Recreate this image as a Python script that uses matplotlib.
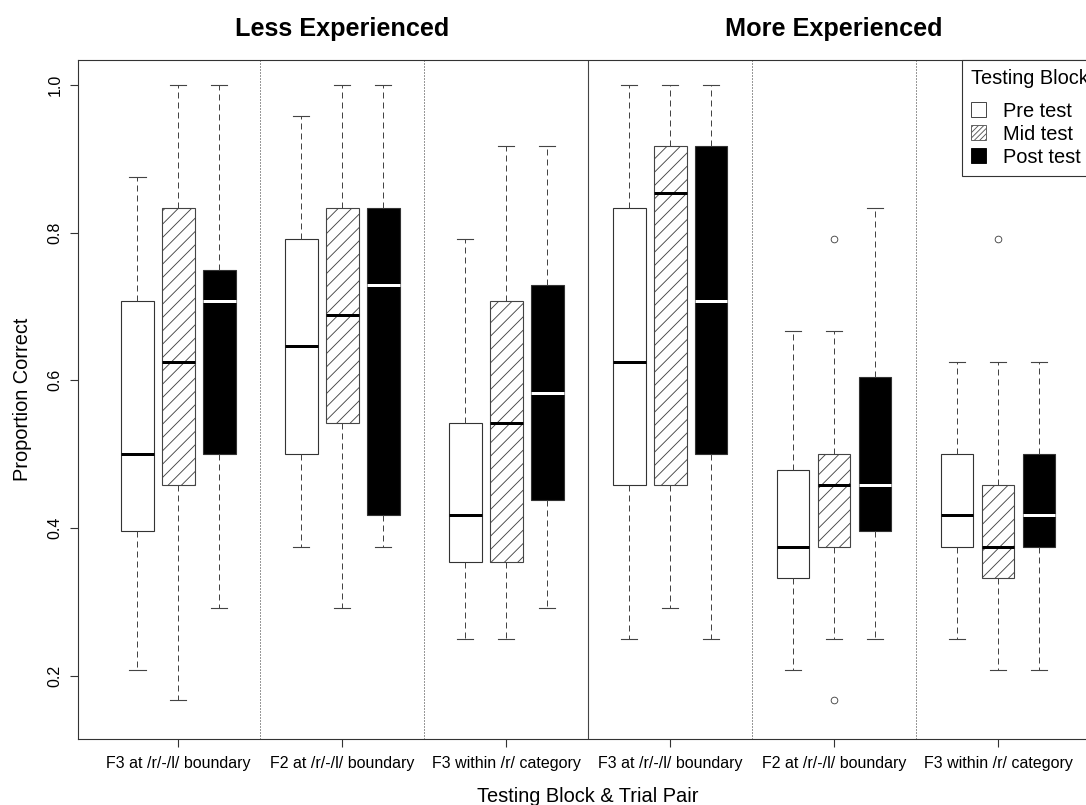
#!/usr/bin/env python3
"""
Proportion correct by testing block and trial pair,
less vs more experienced listeners (R-style boxplot look).
"""

import matplotlib
matplotlib.use("Agg")
import matplotlib.pyplot as plt
from matplotlib.patches import Patch

# ============ DATA ============
conditions = ["F3 at /r/-/l/ boundary", "F2 at /r/-/l/ boundary", "F3 within /r/ category",
              "F3 at /r/-/l/ boundary", "F2 at /r/-/l/ boundary", "F3 within /r/ category"]
groups = ["Less Experienced", "More Experienced"]
blocks = ["Pre test", "Mid test", "Post test"]

pre_lo = [0.208, 0.375, 0.250, 0.250, 0.208, 0.250]
pre_q1 = [0.396, 0.500, 0.354, 0.458, 0.333, 0.375]
pre_med = [0.500, 0.646, 0.417, 0.625, 0.375, 0.417]
pre_q3 = [0.708, 0.792, 0.542, 0.833, 0.479, 0.500]
pre_hi = [0.875, 0.958, 0.792, 1.000, 0.667, 0.625]
pre_out = [[], [], [], [], [], []]

mid_lo = [0.167, 0.292, 0.250, 0.292, 0.250, 0.208]
mid_q1 = [0.458, 0.542, 0.354, 0.458, 0.375, 0.333]
mid_med = [0.625, 0.688, 0.542, 0.854, 0.458, 0.375]
mid_q3 = [0.833, 0.833, 0.708, 0.917, 0.500, 0.458]
mid_hi = [1.000, 1.000, 0.917, 1.000, 0.667, 0.625]
mid_out = [[], [], [], [], [0.792, 0.167], [0.792]]

post_lo = [0.292, 0.375, 0.292, 0.250, 0.250, 0.208]
post_q1 = [0.500, 0.417, 0.438, 0.500, 0.396, 0.375]
post_med = [0.708, 0.729, 0.583, 0.708, 0.458, 0.417]
post_q3 = [0.750, 0.833, 0.729, 0.917, 0.604, 0.500]
post_hi = [1.000, 1.000, 0.917, 1.000, 0.833, 0.625]
post_out = [[], [], [], [], [], []]

y_ticks = [0.2, 0.4, 0.6, 0.8, 1.0]
# ==============================

DPI = 80
W, H = 1086, 805
EDGE = "#333333"
WHISK = "#444444"

plt.rcParams["font.family"] = ["Liberation Sans", "DejaVu Sans"]
plt.rcParams["hatch.linewidth"] = 0.8


def stats(lo, q1, med, q3, hi, out):
    return [dict(whislo=a, q1=b, med=c, q3=d, whishi=e, fliers=f)
            for a, b, c, d, e, f in zip(lo, q1, med, q3, hi, out)]


block_stats = [
    stats(pre_lo, pre_q1, pre_med, pre_q3, pre_hi, pre_out),
    stats(mid_lo, mid_q1, mid_med, mid_q3, mid_hi, mid_out),
    stats(post_lo, post_q1, post_med, post_q3, post_hi, post_out),
]
styles = [
    dict(face="white", edge=EDGE, hatch=None, median="black"),
    dict(face="white", edge="#444444", hatch="//", median="black"),
    dict(face="black", edge=EDGE, hatch=None, median="white"),
]

fig = plt.figure(figsize=(W / DPI, H / DPI), dpi=DPI)
ax_left, ax_right, ax_top, ax_bottom = 78.3, 1098.0, 59.7, 738.7
ax = fig.add_axes([ax_left / W, 1 - ax_bottom / H,
                   (ax_right - ax_left) / W, (ax_bottom - ax_top) / H])

n_cond = len(conditions)
centers = [4 * i + 2 for i in range(n_cond)]

for b, (st, sty) in enumerate(zip(block_stats, styles)):
    pos = [4 * i + 1 + b for i in range(n_cond)]
    ax.bxp(st, positions=pos, widths=0.8, capwidths=0.4, patch_artist=True,
           showfliers=True,
           boxprops=dict(facecolor=sty["face"], edgecolor=sty["edge"], linewidth=1.0,
                         hatch=sty["hatch"]),
           whiskerprops=dict(color=WHISK, linewidth=0.9, linestyle=(0, (6, 4))),
           capprops=dict(color=WHISK, linewidth=1.0),
           medianprops=dict(color=sty["median"], linewidth=2.7),
           flierprops=dict(marker="o", markerfacecolor="none", markeredgecolor=WHISK,
                           markersize=6, markeredgewidth=0.8))

# group separators: dotted inside a half, solid between the halves
for i in range(1, n_cond):
    if i == n_cond // 2:
        ax.axvline(4 * i, color="#444444", linewidth=1.0)
    else:
        ax.axvline(4 * i, color="#333333", linewidth=0.9, linestyle=(0, (1, 2)))

ax.set_xlim(-0.44, 4 * n_cond + 0.44)
ax.set_ylim(0.1147, 1.0343)
ax.set_xticks(centers)
ax.set_xticklabels(conditions, fontsize=14.4)
ax.set_yticks(y_ticks)
ax.set_yticklabels([f"{v:.1f}" for v in y_ticks], fontsize=14.4, rotation=90, va="center")
ax.tick_params(axis="both", length=7, width=1.0, color=EDGE)
ax.tick_params(axis="x", pad=9)
ax.tick_params(axis="y", pad=7)
for s in ax.spines.values():
    s.set_color(EDGE)
    s.set_linewidth(1.0)

ax.set_xlabel("Testing Block & Trial Pair", fontsize=18, labelpad=14)
ax.set_ylabel("Proportion Correct", fontsize=18, labelpad=14)

# group titles over the middle condition of each half
half = n_cond // 2
for g, name in enumerate(groups):
    ax.text(centers[g * half + 1], 1.045, name, transform=ax.get_xaxis_transform(),
            ha="center", va="center", fontsize=22.7, fontweight="bold")

handles = [
    Patch(facecolor="white", edgecolor=EDGE, linewidth=0.8),
    Patch(facecolor="white", edgecolor="#555555", hatch="/////", linewidth=0.8),
    Patch(facecolor="black", edgecolor="black", linewidth=0.8),
]
leg = ax.legend(handles, blocks, title="Testing Block\n", loc="upper left",
                bbox_to_anchor=(962 / W, 1 - 59.7 / H), bbox_transform=fig.transFigure,
                borderaxespad=0, fontsize=18, title_fontsize=18, alignment="left",
                handlelength=0.75, handleheight=0.75, handletextpad=0.85,
                labelspacing=0.2, borderpad=0.45, fancybox=False, framealpha=1)
leg.get_title().set_linespacing(0.4)  # a little extra room under the title, as in R
leg.get_frame().set_edgecolor(EDGE)
leg.get_frame().set_linewidth(1.0)

fig.savefig("out.png", dpi=DPI)
